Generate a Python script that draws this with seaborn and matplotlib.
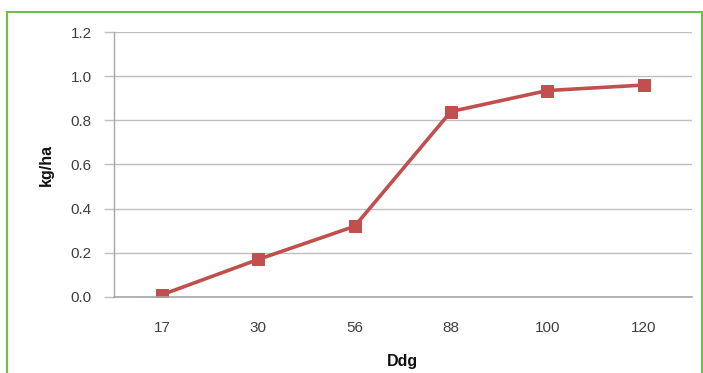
import matplotlib
matplotlib.use("Agg")
import matplotlib.pyplot as plt
import seaborn as sns
import pandas as pd
from matplotlib.patches import Rectangle

# Data
ddg = ["17", "30", "56", "88", "100", "120"]
kg_ha = [0.01, 0.17, 0.32, 0.84, 0.935, 0.96]
y_ticks = [0.0, 0.2, 0.4, 0.6, 0.8, 1.0, 1.2]

df = pd.DataFrame({"Ddg": ddg, "kg/ha": kg_ha})

sns.set_theme(style="white")
plt.rcParams["font.family"] = ["Liberation Sans", "DejaVu Sans"]

fig = plt.figure(figsize=(7.03, 3.73), dpi=100)
ax = fig.add_axes([0.162, 0.204, 0.822, 0.710])

line_color = "#C0504D"
sns.lineplot(data=df, x="Ddg", y="kg/ha", ax=ax, color=line_color, linewidth=2.6,
             marker="s", markersize=9, markeredgecolor=line_color, sort=False)

ax.set_xlim(-0.5, len(ddg) - 0.5)
ax.set_ylim(0, 1.2)
ax.set_yticks(y_ticks)
ax.set_yticklabels([f"{v:.1f}" for v in y_ticks])

ax.yaxis.grid(True, color="#BFBFBF", linewidth=1.0)
ax.set_axisbelow(True)
for s in ["top", "right"]:
    ax.spines[s].set_visible(False)
ax.spines["left"].set_color("#A6A6A6")
ax.spines["left"].set_linewidth(1.0)
ax.spines["bottom"].set_color("#A6A6A6")
ax.spines["bottom"].set_linewidth(1.2)

ax.tick_params(axis="y", which="major", length=7, width=1.0, color="#BFBFBF",
               labelsize=11, labelcolor="#404040", pad=9, left=True)
ax.tick_params(axis="x", length=0, labelsize=11, labelcolor="#404040", pad=17)

ax.set_xlabel("Ddg", fontsize=11.5, fontweight="bold", color="#111111")
ax.set_ylabel("kg/ha", fontsize=11.5, fontweight="bold", color="#111111")
ax.xaxis.set_label_coords(0.5, -0.217)
ax.yaxis.set_label_coords(-0.104, 0.5)

# Outer frame
fig.patches.append(Rectangle((7 / 703, -0.05), 695 / 703, 1.05 - 12 / 373,
                             transform=fig.transFigure, fill=False,
                             edgecolor="#6CC04A", linewidth=1.5))

fig.savefig("out.png", dpi=100)
